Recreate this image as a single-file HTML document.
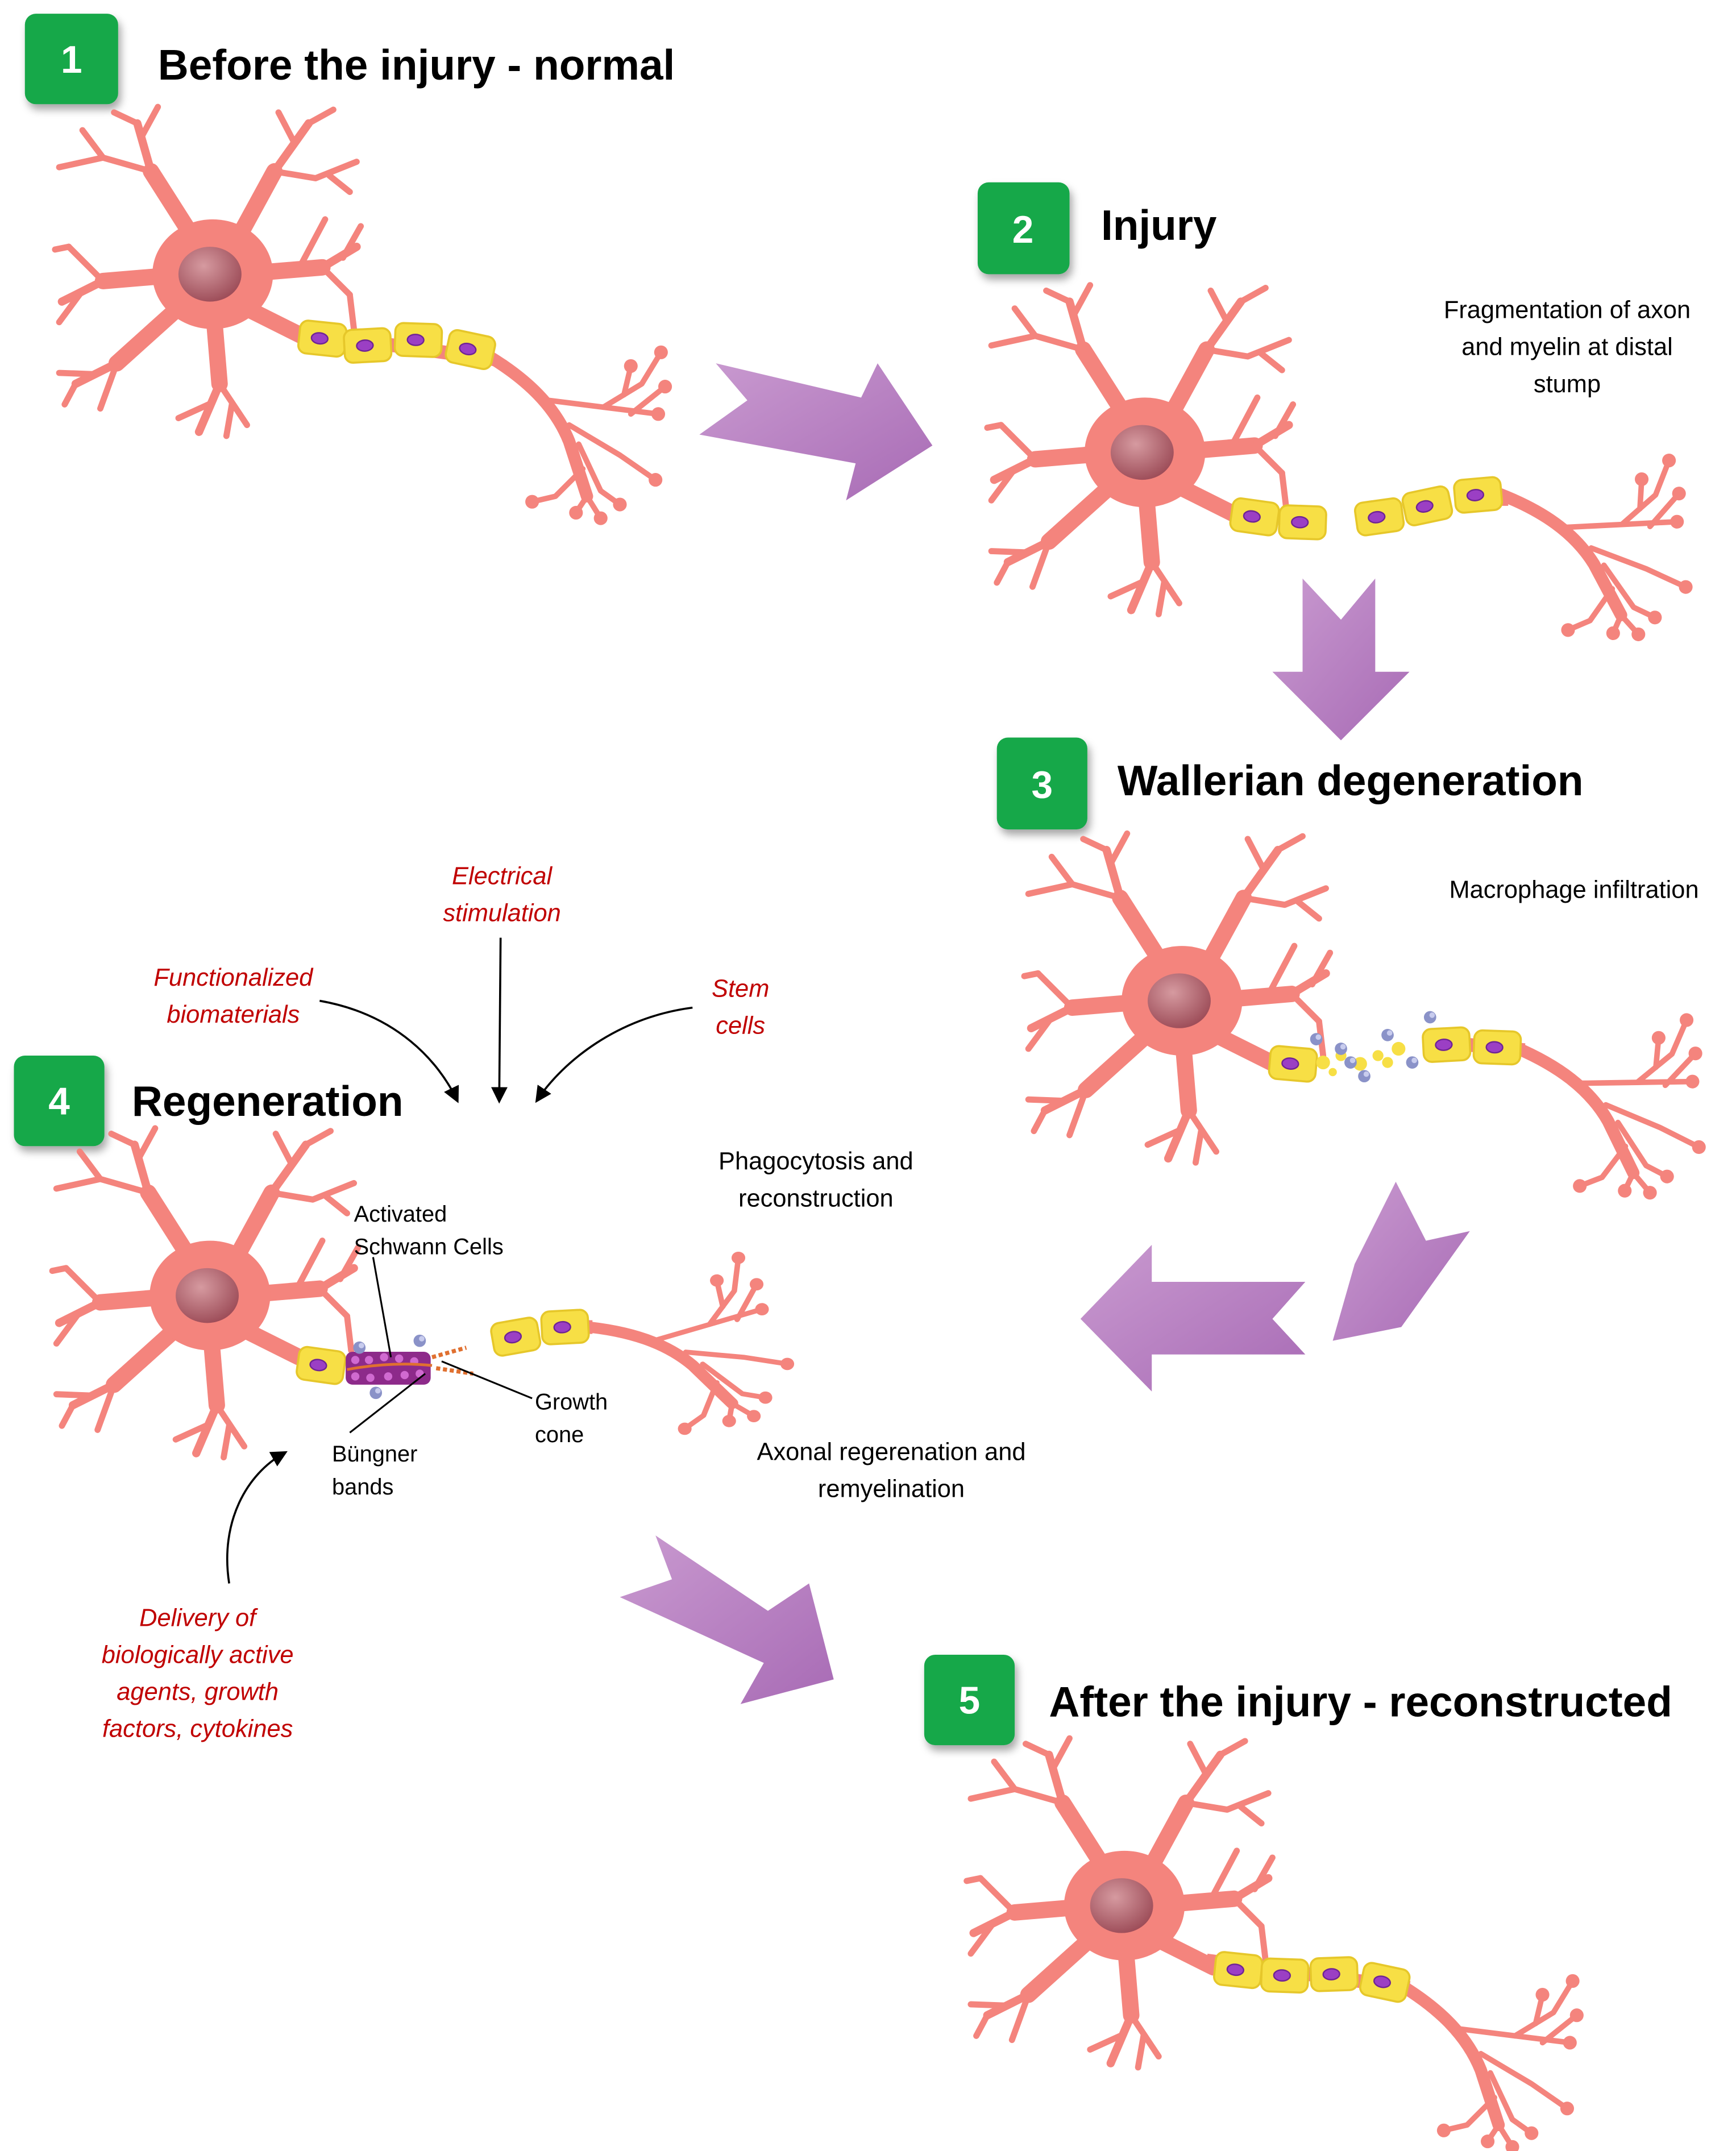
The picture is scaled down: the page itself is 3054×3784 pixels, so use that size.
<!DOCTYPE html>
<html><head><meta charset="utf-8"><style>
html,body{margin:0;padding:0;background:#fff}
svg{display:block}
</style></head><body>
<svg width="3054" height="3784" viewBox="0 0 1266 1569" xmlns="http://www.w3.org/2000/svg" font-family="Liberation Sans, sans-serif">
<defs>
<linearGradient id="pg" x1="0" y1="0" x2="1" y2="1"><stop offset="0" stop-color="#c99ad0"/><stop offset="1" stop-color="#a86bb5"/></linearGradient>
<radialGradient id="nuc" cx="0.4" cy="0.35" r="0.7"><stop offset="0" stop-color="#d69aa0"/><stop offset="1" stop-color="#9b4a56"/></radialGradient>
<filter id="sh" x="-20%" y="-20%" width="150%" height="150%"><feDropShadow dx="2" dy="4" stdDeviation="3" flood-color="#000" flood-opacity="0.35"/></filter>
<g id="soma">
 <g fill="none" stroke="#f4847d" stroke-linecap="round" stroke-linejoin="round">
  <g stroke-width="12"><path d="M-10,-20 L-45,-75"/><path d="M15,-20 L45,-75"/><path d="M-20,0 L-80,5"/><path d="M-20,20 L-70,65"/><path d="M0,20 L5,80"/><path d="M20,0 L80,-5"/></g>
  <g stroke-width="6"><path d="M-45,-75 L-55,-110"/><path d="M45,-75 L70,-110"/><path d="M-80,5 L-110,20"/><path d="M-70,65 L-100,80"/><path d="M5,80 L-10,115"/><path d="M80,-5 L105,-20"/></g>
  <g stroke-width="4.5">
   <path d="M-45,-75 L-80,-85 L-112,-78"/><path d="M-80,-85 L-95,-105"/><path d="M-55,-110 L-72,-118"/><path d="M-52,-100 L-40,-122"/>
   <path d="M45,-75 L75,-70 L105,-82"/><path d="M60,-95 L48,-118"/><path d="M70,-110 L88,-120"/><path d="M85,-72 L100,-60"/>
   <path d="M-80,5 L-105,-20"/><path d="M-95,12 L-112,35"/><path d="M-105,-20 L-115,-18"/>
   <path d="M-70,65 L-82,98"/><path d="M-85,73 L-112,72"/><path d="M-100,80 L-108,95"/>
   <path d="M5,80 L25,110"/><path d="M-3,95 L-25,105"/><path d="M14,95 L10,118"/>
   <path d="M80,-5 L100,15"/><path d="M65,-8 L82,-40"/><path d="M95,-12 L108,-35"/><path d="M100,15 L103,40"/>
  </g>
  <path d="M25,25 L65,45" stroke-width="12"/>
 </g>
 <ellipse cx="0" cy="0" rx="44" ry="40" fill="#f4847d"/>
 <ellipse cx="-2" cy="0" rx="23" ry="20" fill="url(#nuc)"/>
</g>
<g id="term" fill="none" stroke="#f4847d" stroke-linecap="round" stroke-linejoin="round">
 <path d="M-5,-3 C25,15 45,35 55,60 L68,100" stroke-width="9"/>
 <g stroke-width="4">
  <path d="M40,30 L80,35 L120,40"/><path d="M80,35 L108,18 L122,-5"/><path d="M95,26 L100,5"/>
  <path d="M55,48 L92,70 L118,88"/><path d="M62,62 L78,96 L92,106"/><path d="M65,80 L45,100 L28,104"/>
  <path d="M68,100 L60,112"/><path d="M68,100 L78,116"/><path d="M100,40 L125,20"/>
 </g>
 <g fill="#f4847d" stroke="none"><circle cx="120" cy="40" r="5"/><circle cx="122" cy="-5" r="5"/><circle cx="100" cy="5" r="5"/><circle cx="118" cy="88" r="5"/><circle cx="92" cy="106" r="5"/><circle cx="28" cy="104" r="5"/><circle cx="60" cy="112" r="5"/><circle cx="78" cy="116" r="5"/><circle cx="125" cy="20" r="5"/></g>
</g>
<g id="my"><rect x="-17" y="-12" width="34" height="24" rx="6" fill="#f7df45" stroke="#e6c72a" stroke-width="1.5"/><ellipse cx="-2" cy="0" rx="6" ry="4" fill="#9b3fc4" stroke="#6f2494" stroke-width="1"/></g>
<g id="mac"><circle r="4.5" fill="#8a92c8"/><circle cx="1.5" cy="-1.5" r="2" fill="#c8ccee"/></g>
<marker id="ah" markerWidth="8" markerHeight="8" refX="6" refY="4" orient="auto" markerUnits="strokeWidth"><path d="M0,0 L8,4 L0,8 Z" fill="#000"/></marker>
</defs>

<g filter="url(#sh)" fill="#17a84a">
<rect x="18" y="10" width="68" height="66" rx="8"/>
<rect x="713" y="133" width="67" height="67" rx="8"/>
<rect x="727" y="538" width="66" height="67" rx="8"/>
<rect x="10" y="770" width="66" height="66" rx="8"/>
<rect x="674" y="1207" width="66" height="66" rx="8"/>
</g>
<g fill="#fff" font-size="28" font-weight="bold" text-anchor="middle">
<text x="52" y="53">1</text><text x="746" y="177">2</text><text x="760" y="582">3</text><text x="43" y="813">4</text><text x="707" y="1250">5</text>
</g>
<g fill="#000" font-size="31" font-weight="bold">
<text x="115" y="58">Before the injury - normal</text>
<text x="803" y="175">Injury</text>
<text x="815" y="580">Wallerian degeneration</text>
<text x="96" y="814">Regeneration</text>
<text x="765" y="1252">After the injury - reconstructed</text>
</g>

<!-- neuron 1 -->
<use href="#soma" x="155" y="200"/>
<path d="M215,242 L360,262" stroke="#f4847d" stroke-width="10"/>
<use href="#term" x="360" y="262"/>
<use href="#my" transform="translate(235,247) rotate(6)"/><use href="#my" transform="translate(268,252) rotate(-3)"/><use href="#my" transform="translate(305,248) rotate(2)"/><use href="#my" transform="translate(343,255) rotate(12)"/>

<!-- neuron 2 -->
<use href="#soma" x="835" y="330"/>
<path d="M1090,364 L1100,364" stroke="#f4847d" stroke-width="10"/>
<use href="#term" transform="translate(1098,362) rotate(-10)"/>
<use href="#my" transform="translate(915,377) rotate(8)"/><use href="#my" transform="translate(950,381) rotate(2)"/>
<use href="#my" transform="translate(1006,377) rotate(-8)"/><use href="#my" transform="translate(1041,369) rotate(-12)"/><use href="#my" transform="translate(1078,361) rotate(-5)"/>

<!-- neuron 3 -->
<use href="#soma" x="862" y="730"/>
<path d="M1070,762 L1112,766" stroke="#f4847d" stroke-width="10"/>
<use href="#term" transform="translate(1110,766) rotate(-8)"/>
<use href="#my" transform="translate(943,776) rotate(5)"/>
<g fill="#f7df45"><circle cx="965" cy="775" r="5"/><circle cx="978" cy="770" r="4"/><circle cx="992" cy="776" r="5"/><circle cx="1005" cy="770" r="4"/><circle cx="1020" cy="765" r="5"/><circle cx="972" cy="782" r="3"/><circle cx="1012" cy="775" r="4"/></g>
<use href="#mac" x="960" y="758"/><use href="#mac" x="978" y="765"/><use href="#mac" x="995" y="785"/><use href="#mac" x="1012" y="755"/><use href="#mac" x="1030" y="775"/><use href="#mac" x="1043" y="742"/><use href="#mac" x="985" y="775"/>
<use href="#my" transform="translate(1055,762) rotate(-3)"/><use href="#my" transform="translate(1092,764) rotate(2)"/>

<!-- neuron 4 -->
<use href="#soma" x="153" y="945"/>
<path d="M420,968 L432,968" stroke="#f4847d" stroke-width="10"/>
<use href="#term" transform="translate(430,968) scale(1,0.9) rotate(-25)"/>
<use href="#my" transform="translate(234,996) rotate(8)"/>
<g><rect x="252" y="986" width="62" height="24" rx="5" fill="#8d2a8a"/>
<g fill="#d06ad0"><circle cx="259" cy="992" r="3"/><circle cx="269" cy="992" r="3"/><circle cx="280" cy="990" r="3"/><circle cx="291" cy="991" r="3"/><circle cx="302" cy="993" r="3"/><circle cx="259" cy="1004" r="3"/><circle cx="270" cy="1005" r="3"/><circle cx="283" cy="1004" r="3"/><circle cx="295" cy="1003" r="3"/><circle cx="306" cy="1002" r="3"/></g>
<path d="M253,999 Q285,993 315,996" stroke="#e07030" stroke-width="2" fill="none"/></g>
<use href="#mac" x="262" y="983"/><use href="#mac" x="306" y="978"/><use href="#mac" x="274" y="1016"/>
<path d="M315,990 L340,983 M318,998 L345,1002" stroke="#e07030" stroke-width="3" stroke-dasharray="3,2"/>
<use href="#my" transform="translate(376,975) rotate(-10)"/><use href="#my" transform="translate(412,968) rotate(-3)"/>
<g stroke="#000" stroke-width="1.3"><line x1="272" y1="917" x2="285" y2="990"/><line x1="322" y1="993" x2="388" y2="1020"/><line x1="310" y1="1002" x2="255" y2="1045"/></g>
<g font-size="16.5" fill="#000"><text x="258" y="891">Activated</text><text x="258" y="915">Schwann Cells</text><text x="390" y="1028">Growth</text><text x="390" y="1052">cone</text><text x="242" y="1066">Büngner</text><text x="242" y="1090">bands</text></g>

<!-- neuron 5 -->
<use href="#soma" x="820" y="1390"/>
<path d="M880,1430 L1028,1450" stroke="#f4847d" stroke-width="10"/>
<use href="#term" transform="translate(1025,1450)"/>
<use href="#my" transform="translate(903,1437) rotate(6)"/><use href="#my" transform="translate(937,1441) rotate(2)"/><use href="#my" transform="translate(973,1440) rotate(-2)"/><use href="#my" transform="translate(1010,1446) rotate(12)"/>

<g fill="url(#pg)">
<polygon points="522,265 628,290 640,265 680,325 617,365 624,338 510,317 545,292"/>
<polygon points="950,422 978,452 1003,422 1003,490 1028,490 978,540 928,490 950,490"/>
<polygon points="1018,862 1040,905 1072,898 1022,968 972,978 988,922"/>
<polygon points="788,962 840,908 840,935 952,935 928,962 952,988 840,988 840,1015"/>
<polygon points="478,1120 560,1175 590,1155 608,1225 540,1243 557,1213 452,1165 490,1152"/>
</g>

<g font-size="18" fill="#000" text-anchor="middle">
<text x="1143" y="232">Fragmentation of axon</text><text x="1143" y="259">and myelin at distal</text><text x="1143" y="286">stump</text>
<text x="1148" y="655">Macrophage infiltration</text>
<text x="595" y="853">Phagocytosis and</text><text x="595" y="880">reconstruction</text>
<text x="650" y="1065">Axonal regerenation and</text><text x="650" y="1092">remyelination</text>
</g>
<g font-size="18" fill="#c00000" font-style="italic" text-anchor="middle">
<text x="366" y="645">Electrical</text><text x="366" y="672">stimulation</text>
<text x="170" y="719">Functionalized</text><text x="170" y="746">biomaterials</text>
<text x="540" y="727">Stem</text><text x="540" y="754">cells</text>
<text x="144" y="1186">Delivery of</text><text x="144" y="1213">biologically active</text><text x="144" y="1240">agents, growth</text><text x="144" y="1267">factors, cytokines</text>
</g>
<g fill="none" stroke="#000" stroke-width="1.5" marker-end="url(#ah)">
<path d="M233,730 C290,740 320,775 333,802"/>
<path d="M365,684 L364,802"/>
<path d="M505,735 C450,742 410,775 392,802"/>
<path d="M167,1155 C160,1110 180,1075 207,1060"/>
</g>
</svg>
</body></html>
